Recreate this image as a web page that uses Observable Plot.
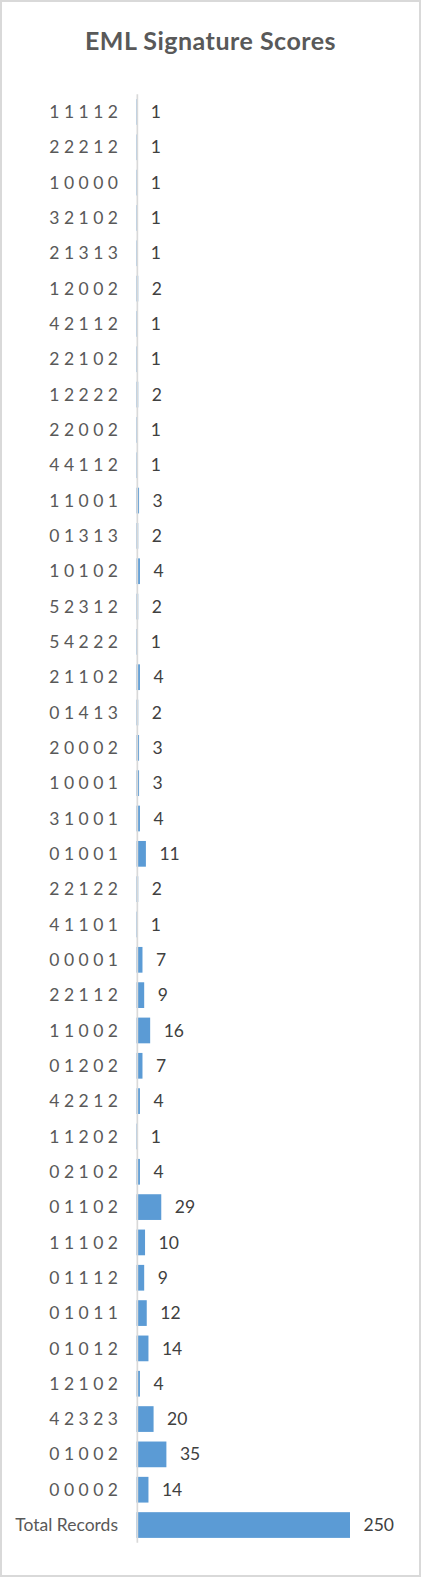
<!DOCTYPE html>
<html>
<head>
<meta charset="utf-8">
<script src="https://cdn.jsdelivr.net/npm/d3@7"></script>
<script src="https://cdn.jsdelivr.net/npm/@observablehq/plot@0.6"></script>
<style>
  html, body { margin: 0; padding: 0; background: #fff; }
  #wrap { position: relative; width: 421px; height: 1577px; overflow: hidden; background: #fff; }
  #wrap svg { display: block; position: absolute; left: 0; top: 0; }
  #frame { position: absolute; left: 0; top: 0; width: 421px; height: 1577px; box-sizing: border-box; border: 2px solid #d9d9d9; pointer-events: none; }
  #title { position: absolute; left: 0; top: 25px; width: 421px; text-align: center; font-family: Lato, sans-serif; font-weight: bold; font-size: 25px; letter-spacing: 0.5px; line-height: 30px; color: #595959; }
</style>
</head>
<body>
<div id="wrap">
  <div id="title">EML Signature Scores</div>
  <div id="frame"></div>
</div>
<script>
const categories = [
  "1 1 1 1 2", "2 2 2 1 2", "1 0 0 0 0", "3 2 1 0 2", "2 1 3 1 3",
  "1 2 0 0 2", "4 2 1 1 2", "2 2 1 0 2", "1 2 2 2 2", "2 2 0 0 2",
  "4 4 1 1 2", "1 1 0 0 1", "0 1 3 1 3", "1 0 1 0 2", "5 2 3 1 2",
  "5 4 2 2 2", "2 1 1 0 2", "0 1 4 1 3", "2 0 0 0 2", "1 0 0 0 1",
  "3 1 0 0 1", "0 1 0 0 1", "2 2 1 2 2", "4 1 1 0 1", "0 0 0 0 1",
  "2 2 1 1 2", "1 1 0 0 2", "0 1 2 0 2", "4 2 2 1 2", "1 1 2 0 2",
  "0 2 1 0 2", "0 1 1 0 2", "1 1 1 0 2", "0 1 1 1 2", "0 1 0 1 1",
  "0 1 0 1 2", "1 2 1 0 2", "4 2 3 2 3", "0 1 0 0 2", "0 0 0 0 2",
  "Total Records"
];
const counts = [
  1, 1, 1, 1, 1,
  2, 1, 1, 2, 1,
  1, 3, 2, 4, 2,
  1, 4, 2, 3, 3,
  4, 11, 2, 1, 7,
  9, 16, 7, 4, 1,
  4, 29, 10, 9, 12,
  14, 4, 20, 35, 14,
  250
];
const data = categories.map((c, i) => ({cat: c, value: counts[i]}));

const chart = Plot.plot({
  width: 421,
  height: 1577,
  marginLeft: 136.5,
  marginRight: 28.3,
  marginTop: 94.3,
  marginBottom: 34.3,
  style: {fontFamily: "Lato, sans-serif", fontSize: "17.5px", color: "#595959", background: "transparent"},
  x: {domain: [0, 300], axis: null},
  y: {domain: categories, paddingInner: 0.272, paddingOuter: 0.136, round: false, axis: null},
  marks: [
    Plot.barX(data, {x: "value", y: "cat", fill: "#5b9bd5"}),
    Plot.ruleX([0], {stroke: "#d9d9d9", strokeWidth: 1.7, dx: 0.35}),
    Plot.axisY({tickSize: 0, tickPadding: 19, label: null, fill: "#595959", fontSize: 17.5}),
    Plot.text(data, {x: "value", y: "cat", text: d => String(d.value), dx: 13, textAnchor: "start", fill: "#404040", fontSize: 17.5})
  ]
});
document.getElementById("wrap").insertBefore(chart, document.getElementById("title"));
</script>
</body>
</html>
